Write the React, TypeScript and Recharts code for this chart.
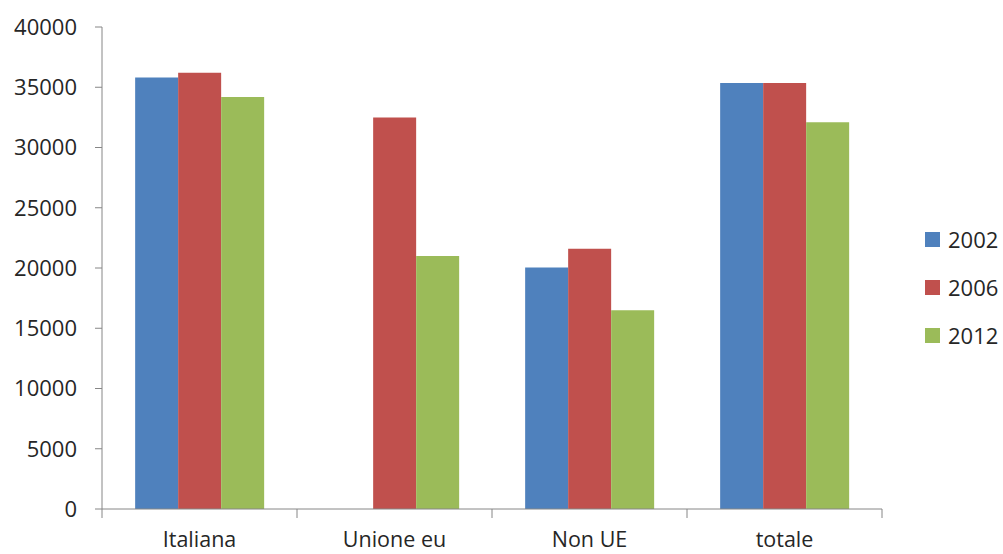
import { BarChart, Bar, XAxis, YAxis, Legend } from 'recharts'

const categorie = ['Italiana', 'Unione eu', 'Non UE', 'totale']
const anno2002 = [35800, null, 20050, 35350]
const anno2006 = [36200, 32500, 21600, 35350]
const anno2012 = [34200, 21000, 16500, 32100]
const yTicks = [0, 5000, 10000, 15000, 20000, 25000, 30000, 35000, 40000]

const serie = [
  { key: '2002', color: '#4F81BD' },
  { key: '2006', color: '#C0504D' },
  { key: '2012', color: '#9BBB59' }
]

const FONT = '"Open Sans", "Liberation Sans", sans-serif'
const AXIS = '#868686'
const TEXT = '#262626'

const data = categorie.map((nome, i) => ({
  nome,
  '2002': anno2002[i],
  '2006': anno2006[i],
  '2012': anno2012[i]
}))

// category label in the middle, tick marks on the band edges
function CategoryTick(props: any) {
  const { x, y, payload, index } = props
  const half = payload.offset ?? 0
  return (
    <g>
      <line x1={x - half} x2={x - half} y1={y} y2={y + 9} stroke={AXIS} />
      {index === categorie.length - 1 && (
        <line x1={x + half} x2={x + half} y1={y} y2={y + 9} stroke={AXIS} />
      )}
      <text x={x} y={y + 23} dy="0.71em" textAnchor="middle" fill={TEXT} fontSize={21.5} fontFamily={FONT}>
        {payload.value}
      </text>
    </g>
  )
}

function Legenda(props: any) {
  const { payload } = props
  return (
    <div style={{ fontFamily: FONT, fontSize: 22, color: TEXT }}>
      {payload.map((p: any) => (
        <div key={p.value} style={{ display: 'flex', alignItems: 'center', height: 48 }}>
          <span style={{ width: 15, height: 15, background: p.color, marginRight: 8, display: 'inline-block' }} />
          {p.value}
        </div>
      ))}
    </div>
  )
}

export default function App() {
  return (
    <div style={{ position: 'absolute', left: 0, top: 0, background: '#fff' }}>
      <BarChart
        width={1003}
        height={554}
        data={data}
        margin={{ top: 27, right: 41, bottom: 0, left: 0 }}
        barCategoryGap="17%"
        barGap={0}
      >
        <XAxis
          dataKey="nome"
          height={45}
          axisLine={{ stroke: AXIS }}
          tickLine={false}
          tickSize={0}
          tickMargin={0}
          tick={<CategoryTick />}
          interval={0}
        />
        <YAxis
          width={102}
          domain={[0, 40000]}
          ticks={yTicks}
          axisLine={{ stroke: AXIS }}
          tickLine={{ stroke: AXIS }}
          tickSize={7}
          tickMargin={18}
          tick={{ fill: TEXT, fontSize: 22, fontFamily: FONT }}
        />
        <Legend
          layout="vertical"
          verticalAlign="middle"
          align="right"
          width={80}
          content={<Legenda />}
          wrapperStyle={{ left: 925, top: 215, width: 80 }}
        />
        {serie.map(s => (
          <Bar key={s.key} dataKey={s.key} name={s.key} fill={s.color} isAnimationActive={false} />
        ))}
      </BarChart>
    </div>
  )
}
